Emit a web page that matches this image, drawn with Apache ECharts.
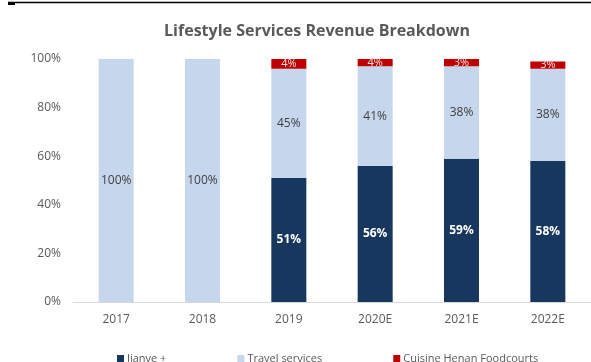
<!DOCTYPE html>
<html>
<head>
<meta charset="utf-8">
<script src="https://cdn.jsdelivr.net/npm/echarts@6/dist/echarts.min.js"></script>
<style>
  html, body { margin: 0; padding: 0; background: #fff; }
  #chart { width: 591px; height: 362px; }
</style>
</head>
<body>
<div id="chart"></div>
<script>
// Revenue mix by year, in percent of lifestyle services revenue
const years = ['2017', '2018', '2019', '2020E', '2021E', '2022E'];
const jianve = [0, 0, 51, 56, 59, 58];
const travel = [100, 100, 45, 41, 38, 38];
const cuisine = [0, 0, 4, 4, 3, 3];
const yTicks = [0, 20, 40, 60, 80, 100];

const font = '"Open Sans", Lato, sans-serif';
const pctLabel = (color, size, weight) => ({
  show: true,
  position: 'inside',
  color: color,
  fontSize: size,
  fontWeight: weight,
  fontFamily: font,
  formatter: p => (p.value ? p.value + '%' : '')
});

const chart = echarts.init(document.getElementById('chart'), null, { renderer: 'canvas' });
chart.setOption({
  animation: false,
  backgroundColor: '#ffffff',
  title: {
    text: 'Lifestyle Services Revenue Breakdown',
    left: 312,
    textAlign: 'center',
    top: 18,
    textStyle: { fontFamily: font, fontSize: 16, fontWeight: 'bold', color: '#595959' }
  },
  legend: {
    left: 112,
    top: 348,
    itemWidth: 7,
    itemHeight: 7,
    itemGap: 71,
    icon: 'rect',
    textStyle: { fontFamily: font, fontSize: 11, color: '#595959', padding: [0, 0, 0, -2] },
    data: ['Jianve +', 'Travel services', 'Cuisine Henan Foodcourts']
  },
  grid: { left: 73, top: 59, width: 528, height: 243, containLabel: false },
  xAxis: {
    type: 'category',
    data: years,
    axisLine: { lineStyle: { color: '#D9D9D9', width: 1 } },
    axisTick: { show: false },
    axisLabel: { color: '#595959', fontSize: 12, fontFamily: font, margin: 12 }
  },
  yAxis: {
    type: 'value',
    min: yTicks[0],
    max: yTicks[yTicks.length - 1],
    interval: yTicks[1] - yTicks[0],
    splitLine: { show: false },
    axisLine: { show: false },
    axisTick: { show: false },
    axisLabel: { color: '#595959', fontSize: 12, fontFamily: font, margin: 12, formatter: v => v + '%' }
  },
  series: [
    {
      name: 'Jianve +', type: 'bar', stack: 'mix', barWidth: 35,
      itemStyle: { color: '#17375E' },
      label: pctLabel('#ffffff', 12, 'bold'),
      data: jianve
    },
    {
      name: 'Travel services', type: 'bar', stack: 'mix', barWidth: 35,
      itemStyle: { color: '#C6D6EC' },
      label: pctLabel('#404040', 12, 'normal'),
      data: travel
    },
    {
      name: 'Cuisine Henan Foodcourts', type: 'bar', stack: 'mix', barWidth: 35,
      itemStyle: { color: '#C00000' },
      label: pctLabel('#F4E4E4', 11, 'normal'),
      data: cuisine
    }
  ],
  graphic: [
    { type: 'line', shape: { x1: 8, y1: 2.5, x2: 591, y2: 2.5 }, style: { stroke: '#000', lineWidth: 1.5 } },
    { type: 'rect', shape: { x: 8, y: 2, width: 7, height: 3 }, style: { fill: '#000' } }
  ]
});
</script>
</body>
</html>
